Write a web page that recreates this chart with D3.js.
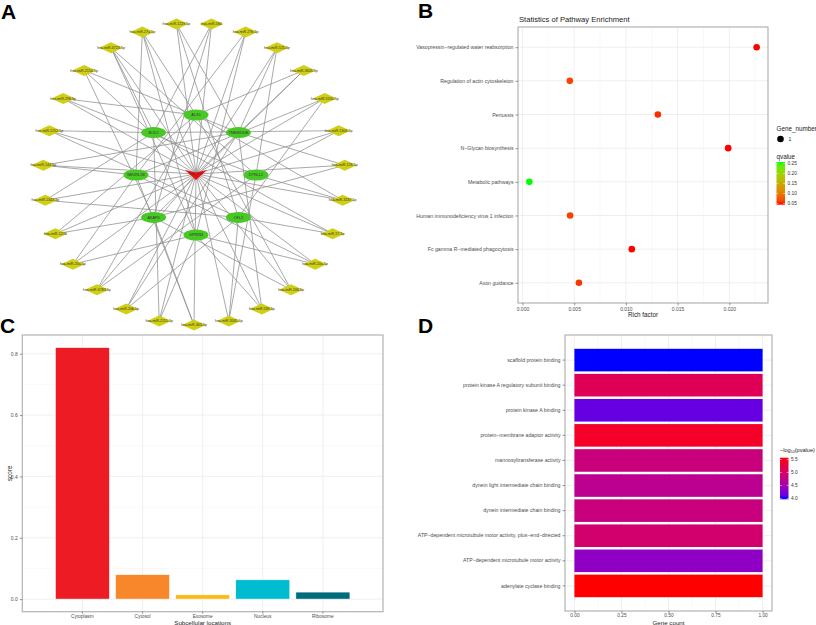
<!DOCTYPE html>
<html><head><meta charset="utf-8">
<script src="https://cdn.jsdelivr.net/npm/d3@7/dist/d3.min.js"></script>
<style>body{margin:0;background:#fff}svg{display:block;font-family:"Liberation Sans",Arial,sans-serif}</style>
</head><body><svg id="c" width="816" height="625"></svg>
<script>
// ---------- DATA ----------
// Panel A: network
const hubName = "hsa_circ";
const mirnas = ["hsa-miR-363-5p","hsa-miR-2115-5p","hsa-miR-20b-5p","hsa-miR-6783-5p","hsa-miR-26a-5p","hsa-miR-1270",
  "hsa-miR-1343-3p","hsa-miR-144-5p","hsa-miR-1252-5p","hsa-miR-296-5p","hsa-miR-2154-5p","hsa-miR-4723-5p",
  "hsa-miR-27a-5p","hsa-miR-1229-5p","hsa-miR-584","hsa-miR-27b-5p","hsa-miR-525-5p","hsa-miR-3605-5p",
  "hsa-miR-5200-5p","hsa-miR-1306-5p","hsa-miR-128-5p","hsa-miR-3187-5p","hsa-miR-17-5p","hsa-miR-20a-5p",
  "hsa-miR-206-5p","hsa-miR-539-5p","hsa-miR-3065-5p"];
const genes = ["ALG1","TMEM163B","DYNLL2","CFL2","GPRIN3","AKAP6","NEURL1B","BOD1"];
const geneTargets = [
  [3, 9, 12, 17, 21, 24, 5],
  [10, 13, 16, 20, 25, 2, 7],
  [9, 11, 16, 21, 26, 3, 19],
  [6, 13, 18, 22, 26, 2, 8],
  [4, 12, 15, 23, 25, 1, 11],
  [5, 10, 14, 17, 24, 0, 20],
  [7, 12, 15, 18, 23, 0, 4],
  [8, 11, 14, 19, 22, 1, 6]
];
// Panel B: pathway enrichment
const pathways = ["Vasopressin\u2212regulated water reabsorption","Regulation of actin cytoskeleton","Pertussis",
  "N\u2212Glycan biosynthesis","Metabolic pathways","Human immunodeficiency virus 1 infection",
  "Fc gamma R\u2212mediated phagocytosis","Axon guidance"];
const richFactor = [0.02264, 0.00458, 0.01309, 0.01989, 0.00067, 0.00461, 0.01057, 0.00546];
const qvalue = [0.044, 0.062, 0.052, 0.044, 0.258, 0.060, 0.044, 0.056];
const geneNumber = [1,1,1,1,1,1,1,1];
const richTicks = [0.000, 0.005, 0.010, 0.015, 0.020];
const qTicks = [0.05, 0.10, 0.15, 0.20, 0.25];
// Panel C: subcellular locations
const locations = ["Cytoplasm","Cytosol","Exosome","Nucleus","Ribosome"];
const scores = [0.820, 0.080, 0.014, 0.063, 0.023];
const locColors = ["#ED1C24","#F7872A","#FDB913","#00BCD0","#006B7B"];
const scoreTicks = [0.0, 0.2, 0.4, 0.6, 0.8];
// Panel D: GO terms
const goTerms = ["scaffold protein binding","protein kinase A regulatory subunit binding","protein kinase A binding",
  "protein\u2212membrane adaptor activity","mannosyltransferase activity","dynein light intermediate chain binding",
  "dynein intermediate chain binding","ATP\u2212dependent microtubule motor activity, plus\u2212end\u2212directed",
  "ATP\u2212dependent microtubule motor activity","adenylate cyclase binding"];
const geneCount = [1,1,1,1,1,1,1,1,1,1];
const logP = [3.97, 5.12, 4.15, 5.42, 4.86, 4.72, 4.84, 4.96, 4.36, 5.57];
const countTicks = [0.00, 0.25, 0.50, 0.75, 1.00];
const logPTicks = [4.0, 4.5, 5.0, 5.5];

// ---------- DRAW ----------
const svg = d3.select("#c");
const defs = svg.append("defs");
const GRID = "#ebebeb", BORDER = "#b3b3b3", TXT = "#4d4d4d";

function letter(t, x, y){
  svg.append("text").attr("x",x).attr("y",y).attr("font-size",21).attr("font-weight","bold")
    .attr("font-family","Liberation Sans, Arial, sans-serif").attr("fill","#000").text(t);
}
function styleAxis(a, fs){
  a.select(".domain").remove();
  a.selectAll("line").attr("stroke","#333").attr("stroke-width",0.5);
  a.selectAll("text").attr("font-size",fs).attr("fill",TXT).attr("font-family","Liberation Sans, Arial, sans-serif");
}

// ===== Panel A =====
letter("A", 1, 19);
(function(){
  const g = svg.append("g");
  const cx = 194, cy = 174;
  const ang = d3.scaleLinear().domain([0, mirnas.length]).range([Math.PI/2, Math.PI/2 + 2*Math.PI]);
  const gang = d3.scaleLinear().domain([0, genes.length]).range([-Math.PI/2, 1.5*Math.PI]);
  const rOuter = 151, rInner = 60;
  const mPos = mirnas.map((m,i)=>({name:m, x:cx+rOuter*Math.cos(ang(i)), y:cy+rOuter*Math.sin(ang(i))}));
  const gPos = genes.map((m,i)=>({name:m, x:cx+2+rInner*Math.cos(gang(i)), y:cy+1+rInner*Math.sin(gang(i))}));
  const hub = {x:cx+2, y:cy};
  const edges = [];
  mPos.forEach(m=>edges.push([hub,m]));
  geneTargets.forEach((arr,gi)=>arr.forEach(mi=>edges.push([gPos[gi], mPos[mi]])));
  g.selectAll("line.e").data(edges).join("line").attr("class","e")
    .attr("x1",d=>d[0].x).attr("y1",d=>d[0].y).attr("x2",d=>d[1].x).attr("y2",d=>d[1].y)
    .attr("stroke","#8c8c8c").attr("stroke-width",0.75);
  const mg = g.selectAll("g.m").data(mPos).join("g").attr("transform",d=>`translate(${d.x},${d.y})`);
  mg.append("path").attr("d","M-12,0L0,-5.5L12,0L0,5.5Z").attr("fill","#cfcf14");
  mg.append("text").attr("text-anchor","middle").attr("dy","0.35em").attr("font-size",3.6).attr("fill","#333").text(d=>d.name);
  const gg = g.selectAll("g.g").data(gPos).join("g").attr("transform",d=>`translate(${d.x},${d.y})`);
  gg.append("ellipse").attr("rx",12.5).attr("ry",5.5).attr("fill","#48c825");
  gg.append("text").attr("text-anchor","middle").attr("dy","0.35em").attr("font-size",3.8).attr("fill","#333").text(d=>d.name);
  const hg = g.append("g").attr("transform",`translate(${hub.x},${hub.y})`);
  hg.append("path").attr("d","M-11,-4L0,-1.5L11,-4L0,6Z").attr("fill","#ee1111");
  hg.append("text").attr("text-anchor","middle").attr("dy","0.2em").attr("font-size",3.6).attr("fill","#333").text(hubName);
})();

// ===== Panel B =====
letter("B", 418, 18);
(function(){
  const L=518, T=27, R=768, B=303;
  const g = svg.append("g");
  const ext = d3.extent(richFactor), span = ext[1]-ext[0];
  const x = d3.scaleLinear().domain([ext[0]-0.05*span, ext[1]+0.05*span]).range([L,R]);
  const y = d3.scalePoint().domain(pathways).range([T,B]).padding(0.6);
  const col = d3.scaleLinear().domain(d3.extent(qvalue)).range(["red","#00ff00"]).interpolate(d3.interpolateLab);
  const minor = richTicks.slice(0,-1).map(t=>t+0.0025).concat([richTicks[0]-0.0025, richTicks[richTicks.length-1]+0.0025])
    .filter(v=>x(v)>L && x(v)<R);
  g.selectAll("line.mn").data(minor).join("line").attr("x1",d=>x(d)).attr("x2",d=>x(d)).attr("y1",T).attr("y2",B)
    .attr("stroke","#f3f3f3").attr("stroke-width",0.5);
  g.selectAll("line.gx").data(richTicks).join("line").attr("x1",d=>x(d)).attr("x2",d=>x(d)).attr("y1",T).attr("y2",B)
    .attr("stroke",GRID).attr("stroke-width",0.8);
  g.selectAll("line.gy").data(pathways).join("line").attr("y1",d=>y(d)).attr("y2",d=>y(d)).attr("x1",L).attr("x2",R)
    .attr("stroke",GRID).attr("stroke-width",0.8);
  g.append("rect").attr("x",L).attr("y",T).attr("width",R-L).attr("height",B-T).attr("fill","none").attr("stroke",BORDER).attr("stroke-width",1.2);
  const ax = g.append("g").attr("transform",`translate(0,${B})`).call(d3.axisBottom(x).tickValues(richTicks).tickFormat(d3.format(".3f")).tickSize(2.5).tickPadding(1.5));
  const ay = g.append("g").attr("transform",`translate(${L},0)`).call(d3.axisLeft(y).tickSize(2.5).tickPadding(2));
  styleAxis(ax,5); styleAxis(ay,5.2);
  g.selectAll("circle.p").data(pathways).join("circle").attr("cx",(d,i)=>x(richFactor[i])).attr("cy",d=>y(d))
    .attr("r",(d,i)=>3.3*Math.sqrt(geneNumber[i])).attr("fill",(d,i)=>col(qvalue[i]));
  g.append("text").attr("x",L+1).attr("y",T-5).attr("font-size",7.6).attr("fill","#222").text("Statistics of Pathway Enrichment");
  g.append("text").attr("x",(L+R)/2).attr("y",B+14).attr("text-anchor","middle").attr("font-size",6.3).attr("fill","#222").text("Rich factor");
  const lx = 776.5;
  g.append("text").attr("x",lx).attr("y",131).attr("font-size",6.3).attr("fill","#222").text("Gene_number");
  g.append("circle").attr("cx",lx+4).attr("cy",139).attr("r",3.3).attr("fill","#000");
  g.append("text").attr("x",lx+12).attr("y",141).attr("font-size",5).attr("fill","#222").text(geneNumber[0]);
  g.append("text").attr("x",lx).attr("y",159).attr("font-size",6.3).attr("fill","#222").text("qvalue");
  const cbT=162, cbB=204.7;
  const qy = d3.scaleLinear().domain(d3.extent(qvalue)).range([cbB,cbT]);
  const lg = defs.append("linearGradient").attr("id","qg").attr("x1",0).attr("x2",0).attr("y1",1).attr("y2",0);
  d3.range(0,1.01,0.1).forEach(t=>lg.append("stop").attr("offset",t).attr("stop-color",col(qy.invert(cbB-t*(cbB-cbT)))));
  g.append("rect").attr("x",lx).attr("y",cbT).attr("width",8.5).attr("height",cbB-cbT).attr("fill","url(#qg)");
  qTicks.forEach(t=>{
    g.append("line").attr("x1",lx).attr("x2",lx+1.8).attr("y1",qy(t)).attr("y2",qy(t)).attr("stroke","#fff").attr("stroke-width",0.5);
    g.append("line").attr("x1",lx+6.7).attr("x2",lx+8.5).attr("y1",qy(t)).attr("y2",qy(t)).attr("stroke","#fff").attr("stroke-width",0.5);
    g.append("text").attr("x",lx+11).attr("y",qy(t)).attr("dy","0.35em").attr("font-size",4.8).attr("fill","#333").text(t.toFixed(2));
  });
})();

// ===== Panel C =====
letter("C", 0, 333);
(function(){
  const L=22.3, T=335, R=383, B=611.7;
  const g = svg.append("g");
  const mx = d3.max(scores);
  const y = d3.scaleLinear().domain([-0.05*mx, mx*1.05]).range([B,T]);
  const x = d3.scaleBand().domain(locations).range([L,R]).paddingInner(0.1).paddingOuter(0.55);
  const minor = scoreTicks.map(t=>t+0.1).filter(v=>y(v)>T);
  g.selectAll("line.mn").data(minor).join("line").attr("y1",d=>y(d)).attr("y2",d=>y(d)).attr("x1",L).attr("x2",R).attr("stroke","#f3f3f3").attr("stroke-width",0.5);
  g.selectAll("line.gy").data(scoreTicks).join("line").attr("y1",d=>y(d)).attr("y2",d=>y(d)).attr("x1",L).attr("x2",R).attr("stroke",GRID).attr("stroke-width",0.8);
  g.selectAll("line.gx").data(locations).join("line").attr("x1",d=>x(d)+x.bandwidth()/2).attr("x2",d=>x(d)+x.bandwidth()/2).attr("y1",T).attr("y2",B).attr("stroke",GRID).attr("stroke-width",0.8);
  g.selectAll("rect.b").data(locations).join("rect").attr("x",d=>x(d)).attr("width",x.bandwidth())
    .attr("y",(d,i)=>y(scores[i])).attr("height",(d,i)=>y(0)-y(scores[i])).attr("fill",(d,i)=>locColors[i])
    .attr("stroke","#fff").attr("stroke-width",0.6);
  g.append("rect").attr("x",L).attr("y",T).attr("width",R-L).attr("height",B-T).attr("fill","none").attr("stroke",BORDER).attr("stroke-width",1.2);
  const ax = g.append("g").attr("transform",`translate(0,${B})`).call(d3.axisBottom(x).tickSize(2).tickPadding(0.5));
  const ay = g.append("g").attr("transform",`translate(${L},0)`).call(d3.axisLeft(y).tickValues(scoreTicks).tickFormat(d3.format(".1f")).tickSize(2.5).tickPadding(2));
  styleAxis(ax,4.8); styleAxis(ay,5);
  g.append("text").attr("x",(L+R)/2).attr("y",624.5).attr("text-anchor","middle").attr("font-size",6.2).attr("fill","#222").text("Subcellular locations");
  g.append("text").attr("transform",`translate(12,${(T+B)/2}) rotate(-90)`).attr("text-anchor","middle").attr("font-size",6.3).attr("fill","#222").text("score");
})();

// ===== Panel D =====
letter("D", 418, 333);
(function(){
  const L=565, T=335, R=772, B=611;
  const g = svg.append("g");
  const x = d3.scaleLinear().domain([-0.05, 1.05]).range([L,R]);
  const y = d3.scaleBand().domain(goTerms).range([T,B]).paddingInner(0.1).paddingOuter(0.55);
  const col = d3.scaleLinear().domain(d3.extent(logP)).range(["blue","red"]).interpolate(d3.interpolateLab);
  const minor = [0.125,0.375,0.625,0.875];
  g.selectAll("line.mn").data(minor).join("line").attr("x1",d=>x(d)).attr("x2",d=>x(d)).attr("y1",T).attr("y2",B).attr("stroke","#f3f3f3").attr("stroke-width",0.5);
  g.selectAll("line.gx").data(countTicks).join("line").attr("x1",d=>x(d)).attr("x2",d=>x(d)).attr("y1",T).attr("y2",B).attr("stroke",GRID).attr("stroke-width",0.8);
  g.selectAll("line.gy").data(goTerms).join("line").attr("y1",d=>y(d)+y.bandwidth()/2).attr("y2",d=>y(d)+y.bandwidth()/2).attr("x1",L).attr("x2",R).attr("stroke",GRID).attr("stroke-width",0.8);
  g.selectAll("rect.b").data(goTerms).join("rect").attr("y",d=>y(d)).attr("height",y.bandwidth())
    .attr("x",x(0)).attr("width",(d,i)=>x(geneCount[i])-x(0)).attr("fill",(d,i)=>col(logP[i]));
  g.append("rect").attr("x",L).attr("y",T).attr("width",R-L).attr("height",B-T).attr("fill","none").attr("stroke",BORDER).attr("stroke-width",1.2);
  const ax = g.append("g").attr("transform",`translate(0,${B})`).call(d3.axisBottom(x).tickValues(countTicks).tickFormat(d3.format(".2f")).tickSize(2).tickPadding(0.5));
  const ay = g.append("g").attr("transform",`translate(${L},0)`).call(d3.axisLeft(y).tickSize(2.5).tickPadding(2));
  styleAxis(ax,4.8); styleAxis(ay,5.2);
  g.append("text").attr("x",(x(0)+x(1))/2).attr("y",624.5).attr("text-anchor","middle").attr("font-size",6.2).attr("fill","#222").text("Gene count");
  const lx = 780, cbT = 457.7, cbB = 499.3;
  const t = g.append("text").attr("x",lx).attr("y",452).attr("font-size",5.6).attr("fill","#222");
  t.append("tspan").text("\u2212log");
  t.append("tspan").attr("font-size",3.6).attr("dy",1.3).text("10");
  t.append("tspan").attr("dy",-1.3).text("(pvalue)");
  const py = d3.scaleLinear().domain(d3.extent(logP)).range([cbB,cbT]);
  const lg = defs.append("linearGradient").attr("id","pg").attr("x1",0).attr("x2",0).attr("y1",1).attr("y2",0);
  d3.range(0,1.01,0.1).forEach(s=>lg.append("stop").attr("offset",s).attr("stop-color",col(py.invert(cbB-s*(cbB-cbT)))));
  g.append("rect").attr("x",lx).attr("y",cbT).attr("width",8.5).attr("height",cbB-cbT).attr("fill","url(#pg)");
  logPTicks.forEach(v=>{
    g.append("line").attr("x1",lx).attr("x2",lx+1.8).attr("y1",py(v)).attr("y2",py(v)).attr("stroke","#fff").attr("stroke-width",0.5);
    g.append("line").attr("x1",lx+6.7).attr("x2",lx+8.5).attr("y1",py(v)).attr("y2",py(v)).attr("stroke","#fff").attr("stroke-width",0.5);
    g.append("text").attr("x",lx+11).attr("y",py(v)).attr("dy","0.35em").attr("font-size",4.8).attr("fill","#333").text(v.toFixed(1));
  });
})();
</script></body></html>
